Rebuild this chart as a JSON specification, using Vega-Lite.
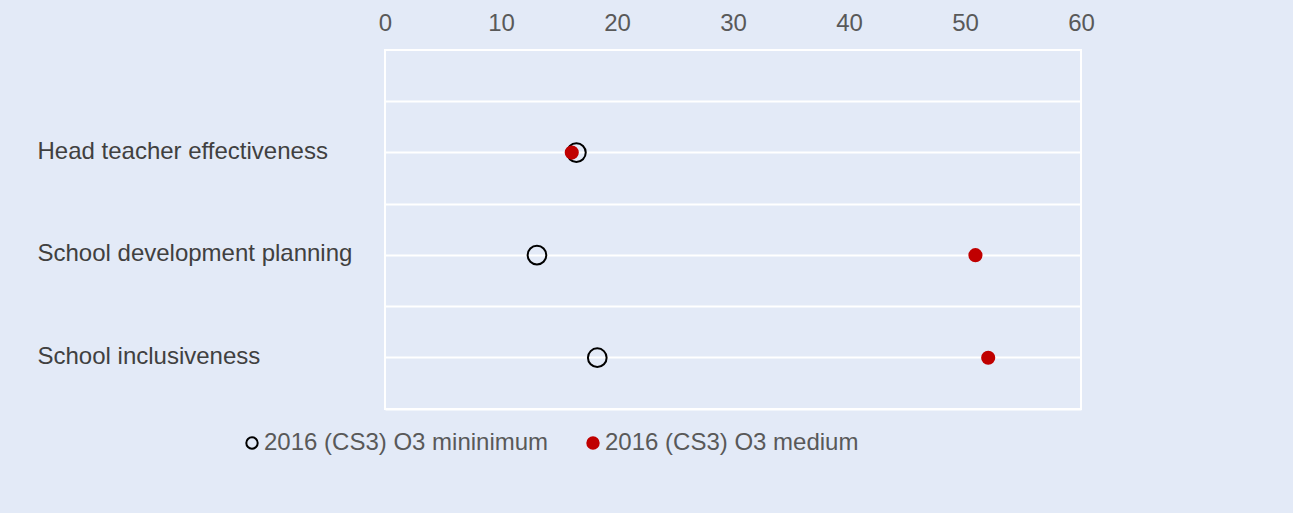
{
  "$schema": "https://vega.github.io/schema/vega-lite/v6.json",
  "autosize": {"type": "none"},
  "width": 696,
  "height": 359,
  "padding": {"left": 385, "top": 50, "right": 212, "bottom": 104},
  "background": "#E3EAF7",
  "config": {
    "font": "Liberation Sans",
    "view": {"stroke": "white", "strokeWidth": 2, "fill": "#E3EAF7"},
    "axis": {"labelFont": "Liberation Sans"},
    "legend": {
      "orient": "none",
      "legendX": -145,
      "legendY": 381,
      "direction": "horizontal",
      "labelFont": "Liberation Sans",
      "labelFontSize": 24,
      "labelColor": "#595959",
      "labelLimit": 400,
      "labelOffset": 0,
      "columnPadding": 32,
      "symbolType": "circle",
      "symbolSize": 130,
      "symbolStrokeWidth": 2,
      "title": null
    }
  },
  "data": {
    "values": [
      {"category": "Head teacher effectiveness", "series": "2016 (CS3) O3 mininimum", "value": 16.5},
      {"category": "Head teacher effectiveness", "series": "2016 (CS3) O3 medium", "value": 16.1},
      {"category": "School development planning", "series": "2016 (CS3) O3 mininimum", "value": 13.1},
      {"category": "School development planning", "series": "2016 (CS3) O3 medium", "value": 50.9},
      {"category": "School inclusiveness", "series": "2016 (CS3) O3 mininimum", "value": 18.3},
      {"category": "School inclusiveness", "series": "2016 (CS3) O3 medium", "value": 52.0}
    ]
  },
  "encoding": {
    "x": {
      "field": "value",
      "type": "quantitative",
      "scale": {"domain": [0, 60], "nice": false},
      "axis": {
        "orient": "top",
        "values": [0, 10, 20, 30, 40, 50, 60],
        "grid": false,
        "domain": false,
        "ticks": false,
        "tickSize": 0,
        "labelFlush": false,
        "labelPadding": 20,
        "labelBaseline": "alphabetic",
        "labelFontSize": 24,
        "labelColor": "#595959",
        "title": null
      }
    },
    "fill": {
      "field": "series",
      "type": "nominal",
      "scale": {"domain": ["2016 (CS3) O3 mininimum", "2016 (CS3) O3 medium"], "range": ["transparent", "#C00000"]},
      "legend": {"title": null, "orient": "none", "legendX": -145, "legendY": 381, "direction": "horizontal"}
    },
    "stroke": {
      "field": "series",
      "type": "nominal",
      "scale": {"domain": ["2016 (CS3) O3 mininimum", "2016 (CS3) O3 medium"], "range": ["black", "#C00000"]},
      "legend": {"title": null, "orient": "none", "legendX": -145, "legendY": 381, "direction": "horizontal"}
    }
  },
  "layer": [
    {
      "transform": [{"filter": "datum.series === '2016 (CS3) O3 mininimum'"}],
      "mark": {"type": "point", "shape": "circle", "size": 350, "strokeWidth": 2, "opacity": 1},
      "encoding": {
        "y": {
          "field": "category",
          "type": "nominal",
          "sort": null,
          "scale": {"type": "band", "paddingInner": 0, "paddingOuter": 0.25, "align": 1},
          "axis": {
            "orient": "left",
            "grid": true,
            "gridColor": "white",
            "gridWidth": 2,
            "tickBand": "center",
            "domain": false,
            "ticks": false,
            "tickSize": 0,
            "labelAlign": "left",
            "labelBaseline": "middle",
            "labelPadding": 348,
            "labelFontSize": 24,
            "labelColor": "#404040",
            "labelLimit": 400,
            "labelOffset": -1,
            "title": null
          }
        }
      }
    },
    {
      "transform": [{"filter": "datum.series === '2016 (CS3) O3 medium'"}],
      "mark": {"type": "point", "shape": "circle", "size": 200, "strokeWidth": 0, "opacity": 1},
      "encoding": {
        "y": {
          "field": "category",
          "type": "nominal",
          "sort": null,
          "scale": {"type": "band", "paddingInner": 0, "paddingOuter": 0.25, "align": 1},
          "axis": {
            "orient": "left",
            "grid": true,
            "gridColor": "white",
            "gridWidth": 2,
            "tickBand": "extent",
            "domain": false,
            "ticks": false,
            "labels": false,
            "title": null
          }
        }
      }
    }
  ],
  "resolve": {"axis": {"y": "independent"}}
}
